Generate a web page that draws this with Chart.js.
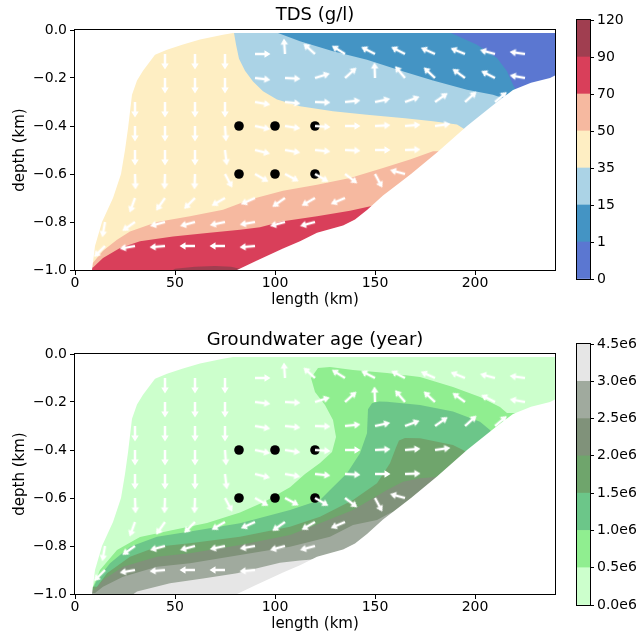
<!DOCTYPE html>
<html>
<head>
<meta charset="utf-8">
<script src="https://cdn.jsdelivr.net/npm/chart.js@4.4.1/dist/chart.umd.min.js"></script>
<style>
  body { margin: 0; background: #fff; width: 644px; height: 636px; position: relative; overflow: hidden; }
  canvas { position: absolute; }
</style>
</head>
<body>
<canvas id="tds" width="565" height="318" style="left:0;top:0"></canvas>
<canvas id="tdsBar" width="79" height="318" style="left:565px;top:0"></canvas>
<canvas id="age" width="565" height="318" style="left:0;top:318px"></canvas>
<canvas id="ageBar" width="79" height="318" style="left:565px;top:318px"></canvas>
<script>
// colour levels (colorbars)
const TDS_LABELS = ['0', '1', '15', '35', '50', '70', '90', '120'];
const TDS_COLORS = ['#5b77d1', '#4494c4', '#abd3e6', '#feeec3', '#f6b9a0', '#d93f5a', '#a03e50'];
const AGE_LABELS = ['0.0e6', '0.5e6', '1.0e6', '1.5e6', '2.0e6', '2.5e6', '3.0e6', '4.5e6'];
const AGE_COLORS = ['#ccffcc', '#90ee90', '#6cc689', '#6fa56c', '#80927a', '#a0aa9e', '#e6e6e6'];

// model domain outline [length km, depth km]
const DOMAIN_EDGE = [[8.5,-1.0],[10,-0.9],[13.5,-0.8],[19,-0.7],[23,-0.6],[25,-0.5],[26.5,-0.41],[28.5,-0.27],
  [31,-0.21],[34,-0.17],[40,-0.103],[46,-0.082],[54,-0.06],[62.5,-0.04],[74,-0.02],[79,-0.0125],[240,-0.0125]];
const DOMAIN_BOTTOM = [[81,-1.0],[91,-0.96],[104,-0.91],[112.5,-0.88],[121,-0.845],[134,-0.815],[140,-0.79],
  [146,-0.75],[154,-0.69],[162.5,-0.635],[168,-0.6],[181,-0.51],[196,-0.40],[211,-0.30],[219,-0.25],[228,-0.22],
  [237.5,-0.2],[240,-0.19]];

// TDS contour lines
const TDS_1 = [[188,-0.0125],[201,-0.061],[211,-0.117],[216,-0.172],[219,-0.228],[221,-0.26]];
const TDS_15 = [[101.5,-0.0125],[112.5,-0.047],[129,-0.089],[146,-0.124],[165,-0.175],[179,-0.21],[196,-0.249],
  [209,-0.27],[216,-0.29]];
const TDS_35 = [[79.5,-0.0125],[80.5,-0.06],[82,-0.12],[85,-0.17],[89,-0.215],[94,-0.255],[101,-0.29],
  [112.5,-0.318],[129,-0.339],[146,-0.353],[165,-0.368],[179,-0.38],[191,-0.394],[196,-0.42]];
const TDS_50 = [[9,-0.97],[14,-0.92],[21,-0.874],[27.5,-0.84],[41,-0.80],[57.5,-0.776],[74,-0.749],[88,-0.705],
  [104,-0.67],[121,-0.645],[137.5,-0.617],[154,-0.575],[167.5,-0.54],[179,-0.505]];
const TDS_70 = [[9,-0.99],[14,-0.95],[22.5,-0.908],[32.5,-0.88],[49,-0.86],[66,-0.846],[82.5,-0.832],
  [92.5,-0.822],[104,-0.797],[121,-0.776],[137.5,-0.753],[150,-0.73]];
const TDS_90 = [[45,-1.02],[50,-0.995],[60,-0.986],[70,-0.983],[78,-0.986],[83,-0.996],[85,-1.02]];

// groundwater age contour lines
const AGE_05 = [[9,-0.97],[12.5,-0.9],[21,-0.817],[32.5,-0.7625],[49,-0.733],[66,-0.704],[82.5,-0.66],[95,-0.615],
  [107.5,-0.555],[115,-0.5],[122.5,-0.454],[128.5,-0.408],[130.5,-0.346],[129,-0.275],[125,-0.2125],[120,-0.158],
  [118,-0.1],[121.5,-0.058],[127.5,-0.054],[139,-0.067],[156,-0.079],[172.5,-0.096],[189,-0.1375],[202.5,-0.179],
  [212.5,-0.221],[216,-0.246]];
const AGE_10 = [[9,-0.976],[11,-0.942],[17.5,-0.872],[27.5,-0.803],[41,-0.761],[57.5,-0.74],[82.5,-0.705],
  [107.5,-0.65],[122.5,-0.608],[127.5,-0.567],[136,-0.497],[142.5,-0.414],[146,-0.33],[146.5,-0.23],[148.5,-0.205],
  [152,-0.198],[156,-0.199],[172.5,-0.2125],[189,-0.24],[202.5,-0.282],[207.5,-0.317],[210,-0.346]];
const AGE_15 = [[11,-0.97],[16,-0.914],[27.5,-0.845],[41,-0.803],[57.5,-0.789],[82.5,-0.761],[107.5,-0.72],
  [122.5,-0.678],[139,-0.608],[151,-0.539],[157.5,-0.455],[160.5,-0.39],[162,-0.36],[165,-0.35],[172.5,-0.351],
  [189,-0.379],[194,-0.4],[197.5,-0.42]];
const AGE_20 = [[10,-0.983],[14,-0.942],[24,-0.886],[41,-0.845],[57.5,-0.83],[82.5,-0.796],[107.5,-0.754],
  [122.5,-0.705],[139,-0.65],[147.5,-0.608],[156,-0.567],[164,-0.532],[172.5,-0.518],[182.5,-0.511],[185,-0.508]];
const AGE_25 = [[10,-0.996],[14,-0.97],[24,-0.928],[41,-0.886],[57.5,-0.872],[82.5,-0.8375],[107.5,-0.803],
  [127.5,-0.761],[139,-0.7125],[151,-0.692],[158,-0.66]];
const AGE_30 = [[27.5,-1.01],[31,-0.99],[47.5,-0.955],[64,-0.935],[81,-0.914],[87.5,-0.9],[102.5,-0.87],
  [112.5,-0.86],[120,-0.855]];

// sample points
const DOTS = [[82,-0.4],[100,-0.4],[120,-0.4],[82,-0.6],[100,-0.6],[120,-0.6]];

// flow arrows: [length, depth, direction in degrees on screen]
const ARROWS = [
  [45,-0.1,-90],[60,-0.1,-90],[75,-0.1,-90],[90,-0.1,0],[105,-0.1,94],[120,-0.1,138],[135,-0.1,148],
  [150,-0.1,153],[165,-0.1,153],[180,-0.1,156],[195,-0.1,158],[210,-0.1,165],[225,-0.1,172],
  [45,-0.2,-90],[60,-0.2,-90],[75,-0.2,-90],[90,-0.2,-7],[105,-0.2,-3],[120,-0.2,17],[135,-0.2,42],
  [150,-0.2,92],[165,-0.2,130],[180,-0.2,137],[195,-0.2,144],[210,-0.2,153],[225,-0.2,170],
  [30,-0.3,-90],[45,-0.3,-90],[60,-0.3,-90],[75,-0.3,-90],[90,-0.3,-10],[105,-0.3,-6],[120,-0.3,-2],
  [135,-0.3,6],[150,-0.3,12],[165,-0.3,20],[180,-0.3,35],[195,-0.3,42],[210,-0.3,40],
  [30,-0.4,-90],[45,-0.4,-90],[60,-0.4,-90],[75,-0.4,-86],[90,-0.4,-12],[105,-0.4,-9],[120,-0.4,-4],
  [135,-0.4,0],[150,-0.4,3],[165,-0.4,5],[180,-0.4,8],
  [30,-0.5,-90],[45,-0.5,-90],[60,-0.5,-90],[75,-0.5,-83],[90,-0.5,-14],[105,-0.5,-10],[120,-0.5,-6],
  [135,-0.5,-3],[150,-0.5,0],[165,-0.5,2],
  [30,-0.6,-88],[45,-0.6,-92],[60,-0.6,-92],[75,-0.6,-62],[90,-0.6,-30],[105,-0.6,-28],[120,-0.6,-30],
  [135,-0.6,-37],[150,-0.6,-62],[165,-0.6,165],
  [30,-0.7,-110],[45,-0.7,-125],[60,-0.7,-135],[75,-0.7,-150],[90,-0.7,-156],[105,-0.7,-145],
  [120,-0.7,-150],[135,-0.7,-157],
  [15,-0.8,-100],[30,-0.8,-145],[45,-0.8,-165],[60,-0.8,-165],[75,-0.8,-168],[90,-0.8,-170],
  [105,-0.8,-165],[120,-0.8,-165],
  [15,-0.9,-135],[30,-0.9,-170],[45,-0.9,-175],[60,-0.9,180],[75,-0.9,180],[90,-0.9,-175]
];

Chart.defaults.font.family = "'DejaVu Sans', sans-serif";
Chart.defaults.color = '#000';

const pts = list => list.map(([x, y]) => ({x, y}));
// polygons run right to left so the filler's x clip spans the whole plot
const above = c => pts([[250, 0.2], [250, c[c.length - 1][1]], ...c.slice().reverse(), [c[0][0], 0.2], [-5, 0.2]]);
const below = c => pts([[250, -1.2], [250, c[c.length - 1][1]], ...c.slice().reverse(), [-5, c[0][1]], [-5, -1.2]]);
const whole = pts([[250, 0.2], [250, -1.2], [-5, -1.2], [-5, 0.2]]);
const maskTop = pts([[250, 0.2], ...DOMAIN_EDGE.slice().reverse(), [8.5, -1.2], [-5, -1.2], [-5, 0.2]]);
const maskBottom = pts([[250, -1.2], [250, -0.19], ...DOMAIN_BOTTOM.slice().reverse(), [-5, -1.0], [-5, -1.2]]);

function region(data, color, order) {
  return { data, showLine: true, fill: 'shape', backgroundColor: color, borderColor: 'rgba(0,0,0,0)',
    borderWidth: 0, pointRadius: 0, tension: 0, order };
}

// white quiver arrow, tail in the middle of the image
const arrowImg = document.createElement('canvas');
arrowImg.width = 36; arrowImg.height = 36;
(function () {
  const g = arrowImg.getContext('2d');
  g.fillStyle = '#fff';
  g.beginPath();
  g.moveTo(18, 16.7); g.lineTo(27.5, 16.7); g.lineTo(27.5, 14.2); g.lineTo(33.5, 18);
  g.lineTo(27.5, 21.8); g.lineTo(27.5, 19.3); g.lineTo(18, 19.3);
  g.closePath();
  g.fill();
})();

const frame = {
  id: 'frame',
  afterDraw(chart) {
    const {ctx, chartArea: a} = chart;
    ctx.save();
    ctx.strokeStyle = '#000';
    ctx.lineWidth = 1;
    ctx.strokeRect(a.left - 0.5, a.top - 0.5, a.right - a.left + 1, a.bottom - a.top + 1);
    ctx.restore();
  }
};

function field(id, title, areas, titlePad, xHeight, xTitlePad) {
  const datasets = areas.map((a, i) => region(a[0], a[1], 100 - i));
  datasets.push(region(maskTop, '#fff', 10), region(maskBottom, '#fff', 9));
  datasets.push({ data: pts(DOTS), backgroundColor: '#000', borderWidth: 0, pointRadius: 4.8, order: 1 });
  datasets.push({ data: pts(ARROWS), pointStyle: arrowImg, rotation: c => -ARROWS[c.dataIndex][2],
    pointRadius: 2, order: 0 });

  new Chart(document.getElementById(id), {
    type: 'scatter',
    data: { datasets },
    options: {
      responsive: false,
      animation: false,
      events: [],
      layout: { padding: { left: 0, right: 10, top: 0, bottom: 0 } },
      plugins: {
        legend: { display: false },
        tooltip: { enabled: false },
        title: { display: true, fullSize: false, text: title, font: { size: 18, weight: 'normal' },
          color: '#000', padding: titlePad }
      },
      scales: {
        x: {
          min: 0, max: 240,
          ticks: { stepSize: 50, includeBounds: false, padding: 0, font: { size: 14 } },
          grid: { drawOnChartArea: false, tickLength: 5, color: '#000' },
          border: { display: false },
          title: { display: true, text: 'length (km)', font: { size: 15 }, padding: { top: 0, bottom: xTitlePad } },
          afterFit: s => { s.height = xHeight; }
        },
        y: {
          min: -1, max: 0,
          ticks: { stepSize: 0.2, padding: 3, font: { size: 14 }, callback: v => v.toFixed(1).replace('-', '\u2212') },
          grid: { drawOnChartArea: false, tickLength: 5, color: '#000' },
          border: { display: false },
          title: { display: true, text: 'depth (km)', font: { size: 15 }, padding: { top: 11, bottom: 0 } },
          afterFit: s => { s.width = 75; }
        }
      }
    },
    plugins: [frame]
  });
}

function colorbar(id, labels, colors, padTop, padBottom) {
  new Chart(document.getElementById(id), {
    type: 'bar',
    data: {
      labels: [''],
      datasets: colors.map(c => ({ data: [1], backgroundColor: c, borderWidth: 0, barPercentage: 1, categoryPercentage: 1 }))
    },
    options: {
      responsive: false,
      animation: false,
      events: [],
      layout: { padding: { left: 12, right: 0, top: padTop, bottom: padBottom } },
      plugins: { legend: { display: false }, tooltip: { enabled: false } },
      scales: {
        x: { display: false, stacked: true },
        y: {
          stacked: true, position: 'right', min: 0, max: colors.length,
          ticks: { stepSize: 1, padding: 3, font: { size: 14 }, callback: v => labels[v] },
          grid: { drawOnChartArea: false, tickLength: 4, color: '#000' },
          border: { display: false },
          afterFit: s => { s.width = 54; }
        }
      }
    },
    plugins: [frame]
  });
}

field('tds', 'TDS (g/l)', [
  [whole, TDS_COLORS[3]],
  [above(TDS_35), TDS_COLORS[2]],
  [above(TDS_15), TDS_COLORS[1]],
  [above(TDS_1), TDS_COLORS[0]],
  [below(TDS_50), TDS_COLORS[4]],
  [below(TDS_70), TDS_COLORS[5]],
  [below(TDS_90), TDS_COLORS[6]]
], { top: 5, bottom: 3.4 }, 48, 9);

field('age', 'Groundwater age (year)', [
  [whole, AGE_COLORS[0]],
  [below(AGE_05), AGE_COLORS[1]],
  [below(AGE_10), AGE_COLORS[2]],
  [below(AGE_15), AGE_COLORS[3]],
  [below(AGE_20), AGE_COLORS[4]],
  [below(AGE_25), AGE_COLORS[5]],
  [below(AGE_30), AGE_COLORS[6]]
], { top: 11.2, bottom: 3.2 }, 42, 3);

colorbar('tdsBar', TDS_LABELS, TDS_COLORS, 20, 39);
colorbar('ageBar', AGE_LABELS, AGE_COLORS, 26, 31);
</script>
</body>
</html>
